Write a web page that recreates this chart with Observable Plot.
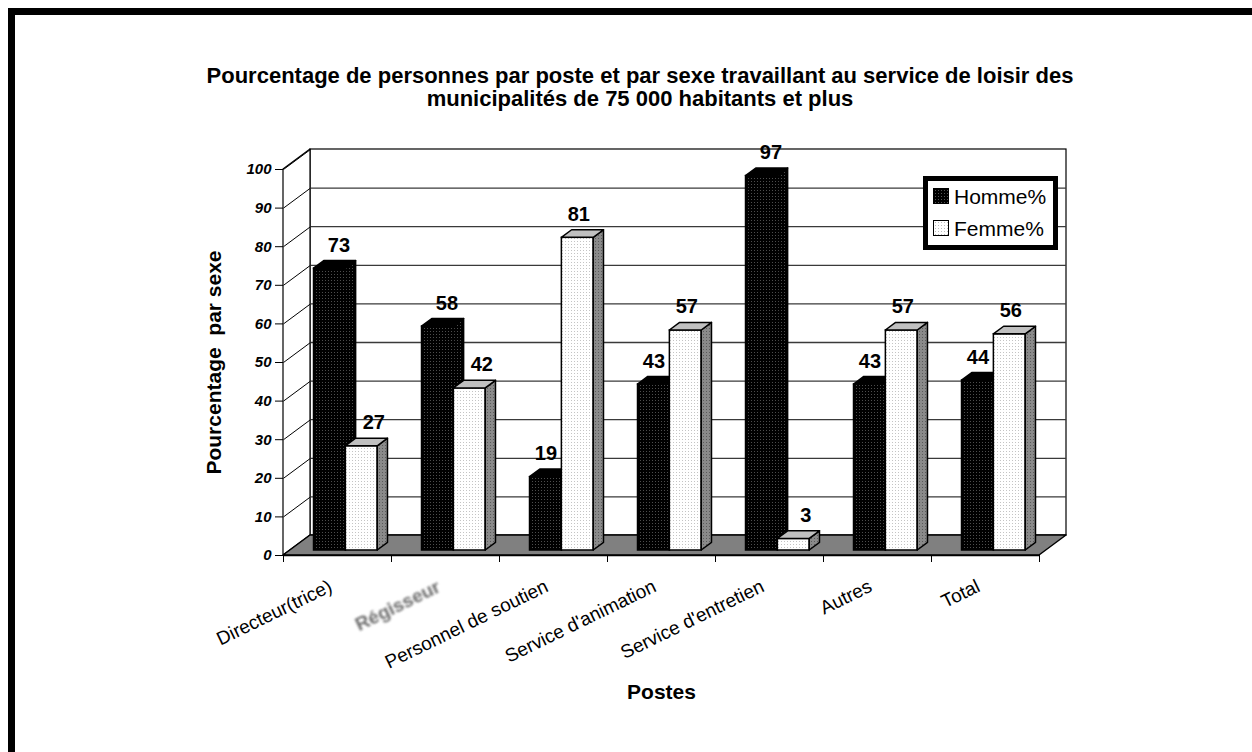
<!DOCTYPE html>
<html><head><meta charset="utf-8">
<script src="https://cdn.jsdelivr.net/npm/d3@7"></script>
<script src="https://cdn.jsdelivr.net/npm/@observablehq/plot@0.6"></script>
<style>
html,body{margin:0;padding:0;background:#fff;}
#page{position:relative;width:1252px;height:752px;overflow:hidden;font-family:"Liberation Sans",Arial,sans-serif;background:#fff;}
#frame{position:absolute;left:8px;top:8px;width:1400px;height:900px;border-left:7px solid #000;border-top:7px solid #000;}
#chart{position:absolute;left:0;top:0;}
#title{position:absolute;left:190px;width:900px;top:64px;text-align:center;font-weight:bold;font-size:22px;line-height:23px;color:#000;}
#legend{position:absolute;left:923px;top:176px;width:135px;height:74px;box-sizing:border-box;border:5px solid #000;background:#fff;padding:0 0 0 5px;font-size:21px;}
#legend .row{line-height:32px;height:32px;white-space:nowrap;}
#legend .sw{display:inline-block;width:14px;height:14px;border:1px solid #000;margin-right:5px;vertical-align:baseline;}
#legend .h{background:#000 radial-gradient(#555 0.6px, transparent 0.9px) 0 0/3px 3px;}
#legend .f{background:#fff radial-gradient(#bbb 0.6px, transparent 0.9px) 0 0/3px 3px;}
</style></head><body>
<div id="page">
  <div id="chart"></div>
  <div id="frame"></div>
  <div id="title"></div>
  <div id="legend"></div>
</div>
<script>
// ---- data ----
const categories = ["Directeur(trice)", "Régisseur", "Personnel de soutien", "Service d'animation", "Service d'entretien", "Autres", "Total"];
const homme = [73, 58, 19, 43, 97, 43, 44];
const femme = [27, 42, 81, 57, 3, 57, 56];
const seriesNames = ["Homme%", "Femme%"];
const yTicks = [0, 10, 20, 30, 40, 50, 60, 70, 80, 90, 100];
const titleLines = ["Pourcentage de personnes par poste et par sexe travaillant au service de loisir des", "municipalités de 75 000 habitants et plus"];
const yLabel = "Pourcentage\u00a0 par sexe";
const xLabel = "Postes";

// ---- 3D geometry (style) ----
const DX = 0.25;          // depth shift in category units
const DY = 20 / 3.86;     // depth shift in value units
const F0 = 0.25, F1 = 0.63;
const slots = [[0.22, 0.515], [0.515, 0.81]];
const nCat = categories.length;

const styles = [
  {front: "url(#pH)", side: "url(#pH)", top: "#000"},
  {front: "url(#pF)", side: "url(#pFs)", top: "#c0c0c0"}
];

function barRows(values, other, s) {
  return values.map((v, i) => ({i, v, o: other[i], x0: i + slots[s][0], x1: i + slots[s][1]}));
}
function barMarks(rows, s) {
  const side = rows.flatMap(d => [F0, F1].map(f => ({i: d.i, x: d.x1 + f * DX, y1: f * DY, y2: d.v + f * DY})));
  const top = rows.flatMap(d => [F0, F1].map(f => ({i: d.i, y: d.v + f * DY, x1: d.x0 + f * DX, x2: d.x1 + f * DX})));
  const st = styles[s];
  return [
    Plot.rect(rows, {x1: d => d.x0 + F0 * DX, x2: d => d.x1 + F0 * DX, y1: () => F0 * DY, y2: d => d.v + F0 * DY, fill: st.front, stroke: "#000", strokeWidth: 1.5}),
    Plot.areaY(side, {x: "x", y1: "y1", y2: "y2", z: "i", fill: st.side, stroke: "#000", strokeWidth: 1.5, strokeLinejoin: "round"}),
    Plot.areaX(top, {y: "y", x1: "x1", x2: "x2", z: "i", fill: st.top, stroke: "#000", strokeWidth: 1.5, strokeLinejoin: "round"})
  ];
}
function labelMark(rows, filter, dx) {
  return Plot.text(rows, {filter, x: d => (d.x0 + d.x1) / 2 + F0 * DX, y: d => d.v + F0 * DY, text: d => String(d.v), dx, dy: -17, lineAnchor: "bottom", fontSize: 20, fontWeight: "bold", fill: "#000"});
}

const hRows = barRows(homme, femme, 0);
const fRows = barRows(femme, homme, 1);

const plot = Plot.plot({
  width: 1252, height: 752,
  marginLeft: 283, marginRight: 213, marginTop: 169, marginBottom: 197,
  x: {type: "linear", domain: [0, nCat]},
  y: {type: "linear", domain: [0, 100]},
  style: {background: "transparent", fontFamily: "'Liberation Sans', Arial, sans-serif", overflow: "visible", color: "#000"},
  marks: [
    // back wall
    Plot.rect([0], {x1: () => DX, x2: () => nCat + DX, y1: () => DY, y2: () => 100 + DY, fill: "#fff", stroke: "#000", strokeWidth: 1.2}),
    // left wall
    Plot.areaY([0, 1], {x: f => f * DX, y1: f => f * DY, y2: f => 100 + f * DY, fill: "#fff", stroke: "#000", strokeWidth: 1.2}),
    // back wall gridlines
    Plot.ruleY(yTicks.filter(v => v > 0 && v < 100), {y: v => v + DY, x1: () => DX, x2: () => nCat + DX, stroke: "#3a3a3a", strokeWidth: 1.3}),
    // left wall gridlines
    Plot.link(yTicks, {x1: () => 0, y1: v => v, x2: () => DX, y2: v => v + DY, stroke: "#000", strokeWidth: 1}),
    // floor
    Plot.areaX([0, 1], {y: f => f * DY, x1: f => f * DX, x2: f => nCat + f * DX, fill: "#808080", stroke: "#000", strokeWidth: 1.5}),
    ...barMarks(hRows, 0),
    ...barMarks(fRows, 1),
    labelMark(hRows, d => d.v > d.o, 9),
    labelMark(hRows, d => d.v <= d.o, 0),
    labelMark(fRows, d => d.v < d.o, 12),
    labelMark(fRows, d => d.v >= d.o, 1),
    // axes
    Plot.axisY({ticks: yTicks, tickSize: 8, tickPadding: 4, fontSize: 15, fontWeight: "bold", fontStyle: "italic", label: null, tickFormat: d => String(d)}),
    Plot.axisX({ticks: d3.range(0, nCat + 1), tickSize: 7, tickFormat: () => "", label: null}),
    Plot.ruleY([0], {x1: () => 0, x2: () => nCat, stroke: "#000", strokeWidth: 1.5}),
    Plot.text(categories, {x: (d, i) => i + 0.5, y: () => 0, text: d => d, rotate: -26, textAnchor: "end", lineAnchor: "top", dx: -10, dy: 23, fontSize: 19, fill: "#000"}),
    Plot.text([yLabel], {frameAnchor: "left", text: d => d, rotate: -90, textAnchor: "middle", dx: -69, fontSize: 21, fontWeight: "bold", fill: "#000"}),
    Plot.text([xLabel], {frameAnchor: "bottom", text: d => d, dy: 137, lineAnchor: "middle", fontSize: 21, fontWeight: "bold", fill: "#000"})
  ]
});

d3.select(plot).insert("defs", ":first-child").html(
  '<pattern id="pH" width="3" height="3" patternUnits="userSpaceOnUse"><rect width="3" height="3" fill="#000"/><rect x="1" y="1" width="1" height="1" fill="#4d4d4d"/></pattern>' +
  '<pattern id="pF" width="3" height="3" patternUnits="userSpaceOnUse"><rect width="3" height="3" fill="#fff"/><rect x="1" y="1" width="1" height="1" fill="#c4c4c4"/></pattern>' +
  '<pattern id="pFs" width="3" height="3" patternUnits="userSpaceOnUse"><rect width="3" height="3" fill="#8a8a8a"/><rect x="1" y="1" width="1" height="1" fill="#5a5a5a"/></pattern>'
);
d3.select(plot).selectAll("text").filter(function() { return this.textContent === "Régisseur"; })
  .attr("fill", "#6e6e6e").style("font-weight", "bold").style("filter", "blur(1.1px)");

document.getElementById("chart").appendChild(plot);

document.getElementById("title").innerHTML = titleLines.map(t => `<div>${t}</div>`).join("");
document.getElementById("legend").innerHTML =
  `<div class="row"><span class="sw h"></span>${seriesNames[0]}</div>` +
  `<div class="row"><span class="sw f"></span>${seriesNames[1]}</div>`;
</script>
</body></html>
